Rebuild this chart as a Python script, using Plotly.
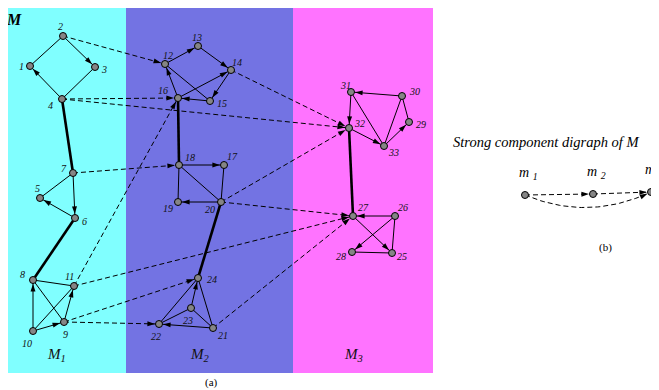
import math
import plotly.graph_objects as go

# ---------------- data ----------------
node_ids = [str(i) for i in range(1, 34)]
node_x = [30, 63, 95, 62, 40, 75, 73, 33, 64, 33, 74,
          165, 198, 231, 210, 178, 224, 179, 178, 221, 213, 159, 191, 198,
          392, 395, 353, 352, 409, 402, 351, 349, 384]
node_y = [66, 36, 67, 99, 198, 218, 173, 280, 322, 331, 286,
          64, 46, 70, 101, 98, 165, 165, 202, 202, 328, 324, 308, 278,
          253, 216, 216, 252, 122, 96, 92, 128, 146]

# solid edges inside components: (from, to, arrow shown)
solid_edges = [
    ("2", "3", True), ("4", "1", True), ("1", "2", False), ("3", "4", False),
    ("7", "6", True), ("6", "5", True), ("5", "7", False),
    ("10", "8", True), ("10", "9", True), ("9", "11", True),
    ("8", "11", False), ("8", "9", False), ("10", "11", False),
    ("12", "13", True), ("13", "14", True), ("16", "14", True), ("14", "15", True),
    ("15", "16", True), ("16", "12", True), ("12", "15", False),
    ("18", "17", True), ("20", "19", True), ("18", "19", False), ("18", "20", False),
    ("17", "20", False),
    ("23", "24", True), ("21", "22", True), ("22", "24", False), ("21", "24", False),
    ("22", "23", False), ("23", "21", False),
    ("30", "31", True), ("31", "32", True), ("32", "33", True), ("33", "29", True),
    ("31", "33", False), ("30", "33", False), ("30", "29", False),
    ("26", "27", True), ("27", "25", True), ("26", "28", True),
    ("28", "25", False), ("26", "25", False),
]
thick_edges = [("4", "7"), ("6", "8"), ("16", "18"), ("20", "24"), ("32", "27")]
dashed_edges = [("2", "12"), ("4", "16"), ("4", "32"), ("14", "32"), ("7", "18"),
                ("11", "16"), ("11", "27"), ("9", "24"), ("9", "22"),
                ("20", "32"), ("20", "27"), ("21", "27")]

panel_names = ["M<sub>1</sub>", "M<sub>2</sub>", "M<sub>3</sub>"]
panel_x0 = [6, 126, 293]
panel_x1 = [126, 293, 433]
panel_colors = ["#80FFFF", "#7373E3", "#FF73FF"]

comp_names = ["m <sub>1</sub>", "m <sub>2</sub>", "m <sub>3</sub>"]
comp_x = [525, 593, 651]
comp_y = [195, 194, 192]
comp_edges = [(0, 1), (1, 2)]
comp_curved = [(0, 2)]

# label offsets (style)
label_off = {
    "1": (-9, 0), "2": (-3, -10), "3": (9, 2), "4": (-12, 6), "5": (-3, -10),
    "6": (9, 3), "7": (-9, -5), "8": (-11, -6), "9": (1, 12), "10": (-6, 12),
    "11": (-5, -10), "12": (3, -9), "13": (-1, -9), "14": (6, -8), "15": (12, 2),
    "16": (-15, -8), "17": (8, -9), "18": (11, -8), "19": (-10, 6), "20": (-11, 7),
    "21": (10, 7), "22": (-3, 12), "23": (-3, 12), "24": (14, 1), "25": (10, 3),
    "26": (8, -9), "27": (10, -9), "28": (-11, 4), "29": (12, 2), "30": (12, -5),
    "31": (-6, -7), "32": (10, -5), "33": (9, 6),
}

pos = {n: (x, y) for n, x, y in zip(node_ids, node_x, node_y)}

# page body has an 8px margin: the plot area starts at page pixel 8
OFF = 8
W, H = 659, 390
NODE_R = 4

fig = go.Figure()
annotations = []
shapes = []
arrow_x, arrow_y, arrow_ang = [], [], []

SERIF = "Liberation Serif, Times New Roman, serif"

for x0, x1, c in zip(panel_x0, panel_x1, panel_colors):
    shapes.append(dict(type="rect", xref="x", yref="y", x0=x0, x1=x1, y0=6, y1=373,
                       fillcolor=c, line=dict(width=0), layer="below"))


def add_line(p, q, width=1, dash=None):
    fig.add_trace(go.Scatter(x=[p[0], q[0]], y=[p[1], q[1]], mode="lines",
                             line=dict(color="black", width=width, dash=dash),
                             hoverinfo="skip", showlegend=False))


def add_arrow(tail, head):
    dx, dy = head[0] - tail[0], head[1] - tail[1]
    L = math.hypot(dx, dy)
    ux, uy = dx / L, dy / L
    arrow_x.append(head[0] - ux * NODE_R)
    arrow_y.append(head[1] - uy * NODE_R)
    # screen y grows downward (reversed axis); angle clockwise from "up"
    arrow_ang.append(math.degrees(math.atan2(ux, -uy)))


for a, b, arr in solid_edges:
    add_line(pos[a], pos[b], 1)
    if arr:
        add_arrow(pos[a], pos[b])
for a, b in thick_edges:
    add_line(pos[a], pos[b], 2.6)
for a, b in dashed_edges:
    add_line(pos[a], pos[b], 1, "5px,3px")
    add_arrow(pos[a], pos[b])

# component digraph
for a, b in comp_edges:
    add_line((comp_x[a], comp_y[a]), (comp_x[b], comp_y[b]), 1, "5px,3px")
    add_arrow((comp_x[a], comp_y[a]), (comp_x[b], comp_y[b]))
SAG = 28
for a, b in comp_curved:
    p0 = (comp_x[a], comp_y[a]); p2 = (comp_x[b], comp_y[b])
    c = ((p0[0] + p2[0]) / 2, (p0[1] + p2[1]) / 2 + SAG)
    xs, ys = [], []
    for i in range(41):
        t = i / 40
        xs.append((1 - t) ** 2 * p0[0] + 2 * (1 - t) * t * c[0] + t * t * p2[0])
        ys.append((1 - t) ** 2 * p0[1] + 2 * (1 - t) * t * c[1] + t * t * p2[1])
    fig.add_trace(go.Scatter(x=xs, y=ys, mode="lines",
                             line=dict(color="black", width=1, dash="5px,3px"),
                             hoverinfo="skip", showlegend=False))
    add_arrow(c, p2)

# arrowheads (tip at node boundary)
fig.add_trace(go.Scatter(x=arrow_x, y=arrow_y, mode="markers",
                         marker=dict(symbol="arrow", size=8, angle=arrow_ang,
                                     color="black", line=dict(width=0)),
                         hoverinfo="skip", showlegend=False))

# nodes
fig.add_trace(go.Scatter(x=node_x, y=node_y, mode="markers",
                         marker=dict(size=7, color="#858585",
                                     line=dict(color="black", width=1)),
                         hoverinfo="skip", showlegend=False))
fig.add_trace(go.Scatter(x=comp_x, y=comp_y, mode="markers",
                         marker=dict(size=7, color="#858585",
                                     line=dict(color="black", width=1)),
                         hoverinfo="skip", showlegend=False))

for n in node_ids:
    dx, dy = label_off[n]
    annotations.append(dict(x=pos[n][0] + dx, y=pos[n][1] + dy, xref="x", yref="y",
                            text="<i>%s</i>" % n, showarrow=False,
                            font=dict(family=SERIF, size=10, color="#111")))

for name, x0, x1 in zip(panel_names, panel_x0, panel_x1):
    annotations.append(dict(x=(x0 + x1) / 2 - 10, y=355, xref="x", yref="y",
                            text="<i>%s</i>" % name, showarrow=False,
                            font=dict(family=SERIF, size=15, color="#111")))

for name, x, y in zip(comp_names, comp_x, comp_y):
    annotations.append(dict(x=x + 3, y=y - 22, xref="x", yref="y",
                            text="<i>%s</i>" % name, showarrow=False,
                            font=dict(family=SERIF, size=14, color="black")))

annotations.append(dict(x=14, y=19, xref="x", yref="y", text="<b><i>M</i></b>",
                        showarrow=False, font=dict(family=SERIF, size=16, color="black")))
annotations.append(dict(x=546, y=142, xref="x", yref="y",
                        text="<i>Strong component digraph of M</i>", showarrow=False,
                        font=dict(family=SERIF, size=14.5, color="black")))
annotations.append(dict(x=211, y=382, xref="x", yref="y", text="(a)", showarrow=False,
                        font=dict(family=SERIF, size=11, color="black")))
annotations.append(dict(x=605, y=247, xref="x", yref="y", text="(b)", showarrow=False,
                        font=dict(family=SERIF, size=11, color="black")))

fig.update_layout(
    width=W - OFF, height=H - OFF, margin=dict(l=0, r=0, t=0, b=0, pad=0),
    paper_bgcolor="white", plot_bgcolor="white",
    xaxis=dict(range=[OFF, W], visible=False, fixedrange=True),
    yaxis=dict(range=[H, OFF], visible=False, fixedrange=True),
    shapes=shapes, annotations=annotations, showlegend=False,
)
fig.write_html("out.html", config={"displayModeBar": False})
